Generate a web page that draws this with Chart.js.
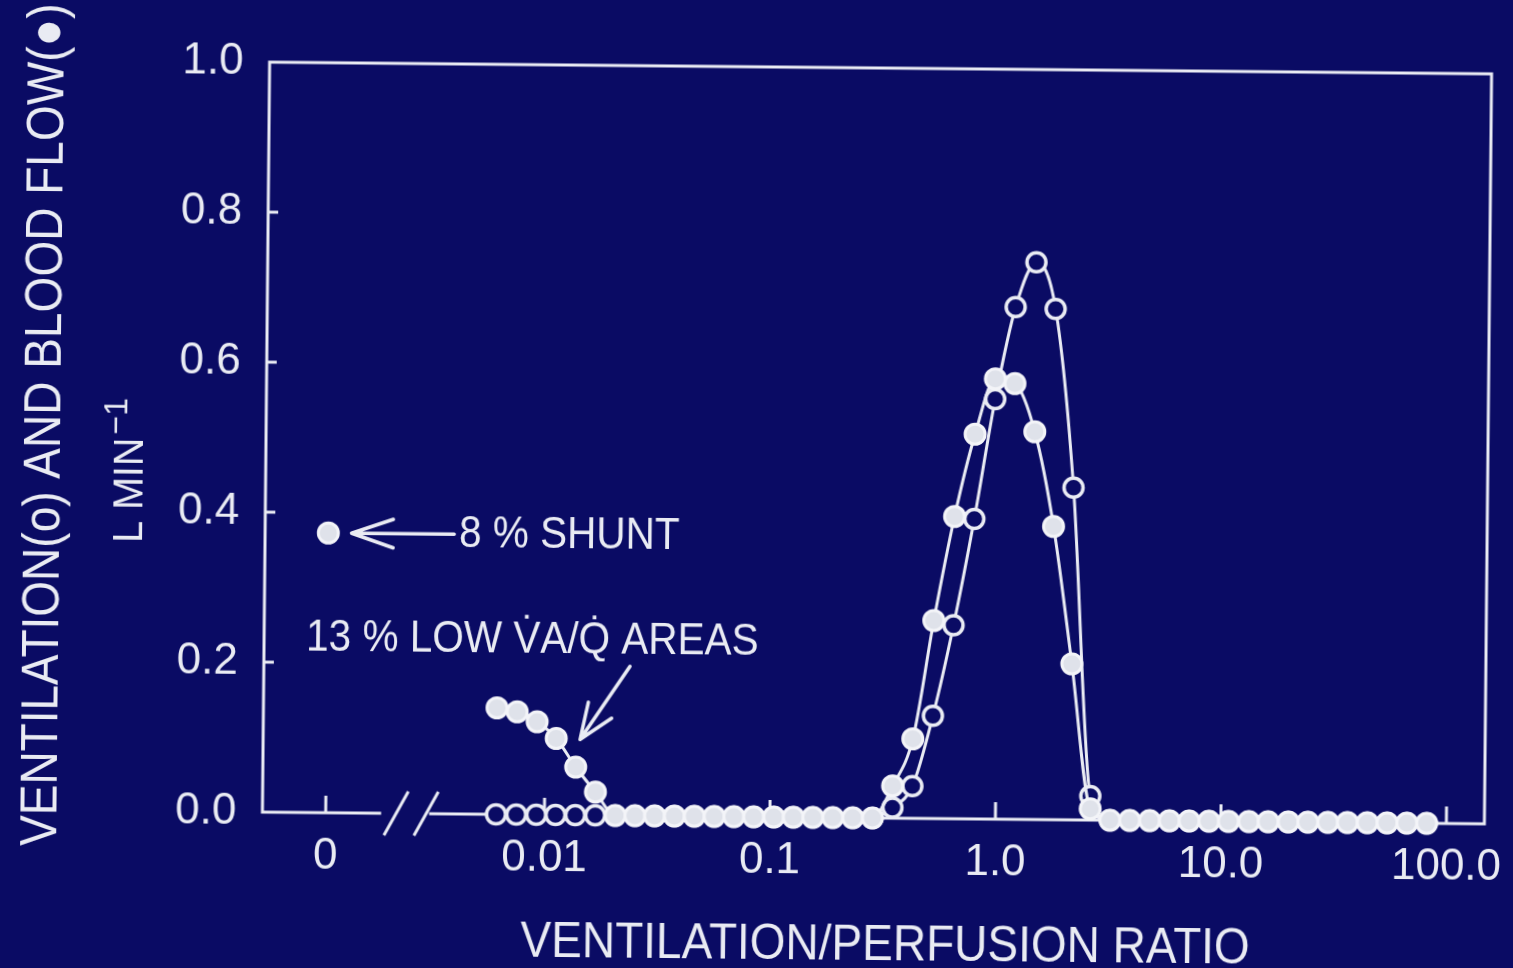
<!DOCTYPE html>
<html>
<head>
<meta charset="utf-8">
<title>Ventilation / perfusion distribution</title>
<script src="https://cdn.jsdelivr.net/npm/chart.js@4.4.1/dist/chart.umd.min.js"></script>
<style>
  html, body { margin: 0; padding: 0; background: #0a0b64; overflow: hidden; }
  /* the original slide is photographed slightly askew */
  #vqChart { display: block; transform: translate(0, 2px) rotate(0.55deg); transform-origin: 877px 441px; }
</style>
</head>
<body>
<canvas id="vqChart" width="1513" height="968"></canvas>
<script>
// one entry per plotted compartment
const vaqRatios = [0.0061, 0.0075, 0.0092, 0.0112, 0.0137, 0.0168, 0.0206, 0.0252,
  0.0308, 0.0377, 0.0462, 0.0566, 0.0692, 0.0847, 0.104, 0.127, 0.155, 0.190,
  0.233, 0.285, 0.349, 0.427, 0.523, 0.640, 0.783, 0.958, 1.17, 1.44, 1.76, 2.15,
  2.63, 3.22, 3.94, 4.83, 5.91, 7.23, 8.85, 10.8, 13.3, 16.2, 19.9, 24.3, 29.8,
  36.4, 44.6, 54.6, 66.8, 81.8];

const ventilation = [0, 0, 0, 0, 0, 0, 0, 0, 0, 0, 0, 0, 0, 0, 0, 0, 0, 0, 0, 0,
  0.014, 0.043, 0.137, 0.258, 0.400, 0.560, 0.683, 0.743, 0.681, 0.443, 0.032,
  0, 0, 0, 0, 0, 0, 0, 0, 0, 0, 0, 0, 0, 0, 0, 0, 0];

const bloodFlow = [0.142, 0.137, 0.124, 0.102, 0.064, 0.031,
  0, 0, 0, 0, 0, 0, 0, 0, 0, 0, 0, 0, 0, 0,
  0.043, 0.106, 0.264, 0.403, 0.513, 0.587, 0.581, 0.517, 0.391, 0.208, 0.015,
  0, 0, 0, 0, 0, 0, 0, 0, 0, 0, 0, 0, 0, 0, 0, 0, 0];

const shuntFlow = 0.373;

const xTickValues = [0, 0.01, 0.1, 1, 10, 100];
const xTickLabels = ['0', '0.01', '0.1', '1.0', '10.0', '100.0'];
const yTickValues = [0, 0.2, 0.4, 0.6, 0.8, 1.0];

// the axis is log10(V/Q); "0" (shunt) sits left of an axis break
const SHUNT_POS = -2.97;
const BREAK_POS = -2.6;

const ink = '#e9ebf3';
const bg = '#0a0b64';
const font = "'Liberation Sans', Arial, sans-serif";

function axisPos(r) {
  return r === 0 ? SHUNT_POS : Math.log10(r);
}

function arrow(ctx, x1, y1, x2, y2, len, spread) {
  const ang = Math.atan2(y1 - y2, x1 - x2);
  ctx.beginPath();
  ctx.moveTo(x1, y1);
  ctx.lineTo(x2, y2);
  ctx.moveTo(x2 + len * Math.cos(ang - spread), y2 + len * Math.sin(ang - spread));
  ctx.lineTo(x2, y2);
  ctx.lineTo(x2 + len * Math.cos(ang + spread), y2 + len * Math.sin(ang + spread));
  ctx.stroke();
}

function squeezedText(ctx, text, x, y, size, sx, align, baseline) {
  ctx.save();
  ctx.font = size + 'px ' + font;
  ctx.textAlign = align;
  ctx.textBaseline = baseline;
  ctx.translate(x, y);
  ctx.scale(sx, 1);
  ctx.fillText(text, 0, 0);
  ctx.restore();
}

const framePlugin = {
  id: 'frame',
  beforeDatasetsDraw(chart) {
    const { ctx, chartArea: a, scales: { x, y } } = chart;
    const y0 = y.getPixelForValue(0);
    const bx = x.getPixelForValue(BREAK_POS);
    ctx.save();
    ctx.strokeStyle = ink;
    ctx.lineWidth = 3;
    ctx.beginPath();
    ctx.moveTo(bx - 28, y0);
    ctx.lineTo(a.left, y0);
    ctx.lineTo(a.left, a.top);
    ctx.lineTo(a.right, a.top);
    ctx.lineTo(a.right, y0);
    ctx.lineTo(bx + 20, y0);
    ctx.stroke();

    // break marks
    [-13, 17].forEach(dx => {
      ctx.beginPath();
      ctx.moveTo(bx + dx - 12, y0 + 22);
      ctx.lineTo(bx + dx + 12, y0 - 22);
      ctx.stroke();
    });

    // inward ticks
    xTickValues.forEach(v => {
      const px = x.getPixelForValue(axisPos(v));
      ctx.beginPath();
      ctx.moveTo(px, y0);
      ctx.lineTo(px, y0 - 17);
      ctx.stroke();
    });
    yTickValues.slice(1, -1).forEach(v => {
      const py = y.getPixelForValue(v);
      ctx.beginPath();
      ctx.moveTo(a.left, py);
      ctx.lineTo(a.left + 10, py);
      ctx.stroke();
    });
    ctx.restore();
  },
  afterDatasetsDraw(chart) {
    const { ctx, scales: { x, y } } = chart;
    const px = v => x.getPixelForValue(v);
    const py = v => y.getPixelForValue(v);
    ctx.save();
    ctx.fillStyle = ink;
    ctx.strokeStyle = ink;
    ctx.lineWidth = 3.5;
    ctx.lineCap = 'round';
    ctx.lineJoin = 'round';

    // annotations
    squeezedText(ctx, '8 % SHUNT', px(-2.39), py(shuntFlow), 45, 0.9, 'left', 'middle');
    arrow(ctx, px(-2.412), py(shuntFlow), px(-2.867), py(shuntFlow), 44, 0.33);

    squeezedText(ctx, '13 % LOW V\u0307A/Q\u0307 AREAS', px(-3.064), py(0.233), 45, 0.9, 'left', 'middle');
    arrow(ctx, px(-1.627), py(0.199), px(-1.845), py(0.101), 38, 0.38);

    // axis titles
    squeezedText(ctx, 'VENTILATION/PERFUSION RATIO', 890, 958, 50, 0.92, 'center', 'alphabetic');

    ctx.save();
    ctx.translate(60, 852);
    ctx.rotate(-Math.PI / 2);
    squeezedText(ctx, 'VENTILATION(o) AND BLOOD FLOW(\u25CF)', 0, 0, 52, 0.885, 'left', 'alphabetic');
    ctx.restore();

    ctx.save();
    ctx.translate(143, 548);
    ctx.rotate(-Math.PI / 2);
    ctx.font = '42px ' + font;
    const w = ctx.measureText('L MIN').width * 0.94;
    squeezedText(ctx, 'L MIN', 0, 0, 42, 0.94, 'left', 'alphabetic');
    squeezedText(ctx, '\u22121', w + 3, -16, 34, 0.94, 'left', 'alphabetic');
    ctx.restore();

    ctx.restore();
  }
};

const toPoints = vals => vaqRatios.map((r, i) => ({ x: axisPos(r), y: vals[i] }));

new Chart(document.getElementById('vqChart'), {
  type: 'line',
  data: {
    datasets: [
      {
        label: 'Blood flow',
        data: toPoints(bloodFlow),
        borderColor: ink,
        borderWidth: 3,
        cubicInterpolationMode: 'monotone',
        pointRadius: 10,
        pointBorderWidth: 3,
        pointBackgroundColor: '#dfe2ea',
        pointBorderColor: '#f3f4f8',
        clip: false
      },
      {
        label: 'Shunt',
        data: [{ x: axisPos(0), y: shuntFlow }],
        showLine: false,
        pointRadius: 10,
        pointBorderWidth: 3,
        pointBackgroundColor: '#dfe2ea',
        pointBorderColor: '#f3f4f8',
        clip: false
      },
      {
        label: 'Ventilation',
        data: toPoints(ventilation),
        borderColor: ink,
        borderWidth: 3,
        cubicInterpolationMode: 'monotone',
        pointRadius: 9.5,
        pointBorderWidth: 3.5,
        pointBackgroundColor: bg,
        pointBorderColor: ink,
        clip: false
      }
    ]
  },
  options: {
    responsive: false,
    animation: false,
    devicePixelRatio: 1,
    layout: { padding: { top: 66, right: 25, left: 0, bottom: 0 } },
    plugins: {
      legend: { display: false },
      tooltip: { enabled: false }
    },
    scales: {
      x: {
        type: 'linear',
        min: -3.2506,
        max: 2.1685,
        grid: { display: false, drawTicks: false },
        border: { display: false },
        afterBuildTicks: s => { s.ticks = xTickValues.map(v => ({ value: axisPos(v) })); },
        afterFit: s => { s.height = 152; s.paddingLeft = 0; s.paddingRight = 0; },
        ticks: {
          autoSkip: false,
          maxRotation: 0,
          padding: 17,
          color: ink,
          font: { family: font, size: 44 },
          callback: (v, i) => xTickLabels[i]
        }
      },
      y: {
        min: 0,
        max: 1,
        grid: { display: false, drawTicks: false },
        border: { display: false },
        afterBuildTicks: s => { s.ticks = yTickValues.map(v => ({ value: v })); },
        afterFit: s => { s.width = 266; s.paddingTop = 0; s.paddingBottom = 0; },
        ticks: {
          padding: 26,
          color: ink,
          font: { family: font, size: 44 },
          callback: v => v.toFixed(1)
        }
      }
    }
  },
  plugins: [framePlugin]
});
</script>
</body>
</html>
